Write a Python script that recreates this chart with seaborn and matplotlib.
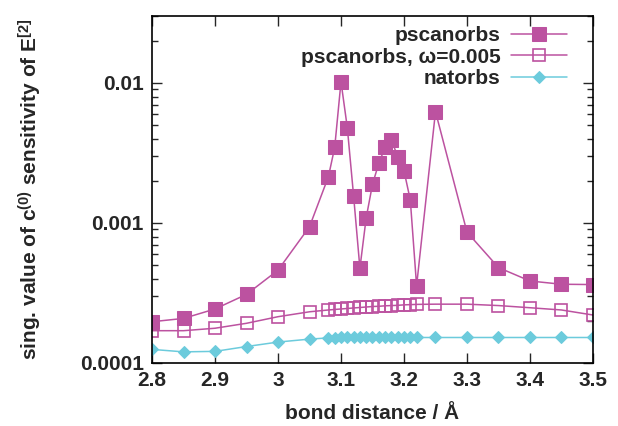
import matplotlib
matplotlib.use("Agg")
import matplotlib.pyplot as plt
import seaborn as sns
import numpy as np
from matplotlib.ticker import FixedLocator, FixedFormatter, LogLocator, NullFormatter

# ---- data ----
x_vals = [2.80, 2.85, 2.90, 2.95, 3.00, 3.05, 3.08, 3.09, 3.10, 3.11, 3.12, 3.13, 3.14,
          3.15, 3.16, 3.17, 3.18, 3.19, 3.20, 3.21, 3.22, 3.25, 3.30, 3.35, 3.40, 3.45, 3.50]
pscanorbs = [1.97e-4, 2.08e-4, 2.43e-4, 3.09e-4, 4.6e-4, 9.4e-4, 2.14e-3, 3.47e-3, 1.02e-2,
             4.8e-3, 1.56e-3, 4.75e-4, 1.09e-3, 1.89e-3, 2.67e-3, 3.47e-3, 3.92e-3, 2.98e-3,
             2.36e-3, 1.46e-3, 3.56e-4, 6.24e-3, 8.6e-4, 4.8e-4, 3.85e-4, 3.65e-4, 3.63e-4]
pscanorbs_w = [1.70e-4, 1.70e-4, 1.77e-4, 1.92e-4, 2.14e-4, 2.32e-4, 2.39e-4, 2.41e-4, 2.43e-4,
               2.45e-4, 2.47e-4, 2.49e-4, 2.51e-4, 2.53e-4, 2.54e-4, 2.56e-4, 2.57e-4, 2.58e-4,
               2.60e-4, 2.61e-4, 2.62e-4, 2.63e-4, 2.63e-4, 2.57e-4, 2.48e-4, 2.39e-4, 2.20e-4]
natorbs = [1.25e-4, 1.20e-4, 1.21e-4, 1.31e-4, 1.41e-4, 1.48e-4, 1.51e-4, 1.51e-4, 1.52e-4,
           1.52e-4, 1.52e-4, 1.52e-4, 1.52e-4, 1.52e-4, 1.52e-4, 1.52e-4, 1.52e-4, 1.52e-4,
           1.52e-4, 1.52e-4, 1.52e-4, 1.52e-4, 1.52e-4, 1.52e-4, 1.52e-4, 1.52e-4, 1.52e-4]
labels = ["pscanorbs", "pscanorbs, \u03c9=0.005", "natorbs"]
x_ticks = [2.8, 2.9, 3.0, 3.1, 3.2, 3.3, 3.4, 3.5]
x_ticklabels = ["2.8", "2.9", "3", "3.1", "3.2", "3.3", "3.4", "3.5"]
y_ticks = [1e-4, 1e-3, 1e-2]
y_ticklabels = ["0.0001", "0.001", "0.01"]

sns.set_style("ticks")
plt.rcParams["font.family"] = ["Liberation Sans", "DejaVu Sans"]
plt.rcParams["font.weight"] = "bold"
plt.rcParams["mathtext.fontset"] = "custom"
plt.rcParams["mathtext.rm"] = "Liberation Sans:bold"
plt.rcParams["mathtext.it"] = "Liberation Sans:bold"
plt.rcParams["mathtext.bf"] = "Liberation Sans:bold"

magenta = "#bc52a0"
cyan = "#6ccbdc"
FS = 15

fig = plt.figure(figsize=(6.18, 4.26), dpi=100)
ax = fig.add_axes([0.246, 0.148, 0.7135, 0.8145])

sns.lineplot(x=x_vals, y=pscanorbs, ax=ax, color=magenta, marker="s", markersize=9.5,
             markeredgecolor=magenta, linewidth=1.1, label=labels[0], sort=False)
sns.lineplot(x=x_vals, y=pscanorbs_w, ax=ax, color=magenta, marker="s", markersize=9,
             markerfacecolor="none", markeredgecolor=magenta, markeredgewidth=1.2,
             linewidth=1.1, label=labels[1], sort=False)
sns.lineplot(x=x_vals, y=natorbs, ax=ax, color=cyan, marker="D", markersize=6,
             markeredgecolor=cyan, linewidth=1.1, label=labels[2], sort=False)

ax.set_yscale("log")
ax.set_xlim(2.8, 3.5)
ax.set_ylim(1e-4, 0.0301)
ax.xaxis.set_major_locator(FixedLocator(x_ticks))
ax.xaxis.set_major_formatter(FixedFormatter(x_ticklabels))
ax.yaxis.set_major_locator(FixedLocator(y_ticks))
ax.yaxis.set_major_formatter(FixedFormatter(y_ticklabels))
ax.yaxis.set_minor_locator(LogLocator(base=10, subs=np.arange(2, 10)))
ax.yaxis.set_minor_formatter(NullFormatter())

ax.tick_params(which="both", direction="in", top=True, right=True, labelsize=FS, width=1.0)
ax.tick_params(which="major", length=7, pad=6)
ax.tick_params(which="minor", length=4)
for lab in ax.get_xticklabels() + ax.get_yticklabels():
    lab.set_fontweight("bold")
for s in ax.spines.values():
    s.set_linewidth(1.2)
    s.set_color("black")

ax.set_xlabel("bond distance / \u00c5", fontsize=FS, fontweight="bold", labelpad=10)
ax.set_ylabel(r"sing. value of c$^{(0)}$ sensitivity of E$^{[2]}$", fontsize=FS,
              fontweight="bold", labelpad=26)

leg = ax.legend(loc="upper right", frameon=False, markerfirst=False, fontsize=FS,
                handlelength=2.7, handletextpad=0.5, labelspacing=0.12,
                bbox_to_anchor=(0.975, 1.013), borderaxespad=0.3)
for col in leg._legend_handle_box.get_children():
    col.align = "right"
for t in leg.get_texts():
    t.set_fontweight("bold")

fig.savefig("out.png", dpi=100)
